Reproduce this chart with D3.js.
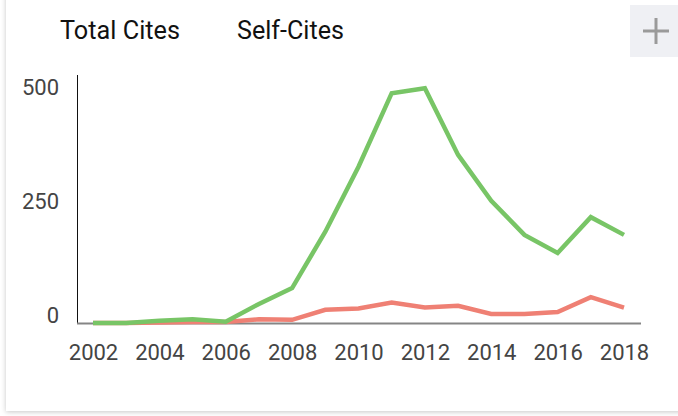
<!DOCTYPE html>
<html>
<head>
<meta charset="utf-8">
<script src="https://cdn.jsdelivr.net/npm/d3@7"></script>
<style>
  html, body { margin: 0; padding: 0; background: #fff; }
  body { width: 678px; height: 416px; overflow: hidden; position: relative; font-family: Roboto, sans-serif; }
  #card {
    position: absolute; left: 6px; top: -10px; width: 720px; height: 421px;
    background: #fff; box-shadow: 0 1px 5px rgba(0,0,0,0.22);
  }
  #chart { position: absolute; left: 0; top: 0; }
</style>
</head>
<body>
<div id="card"></div>
<svg id="chart" width="678" height="416"></svg>
<script>
const years = d3.range(2002, 2019);
const totalCites = [0, 0, 5, 8, 3, 42, 77, 201, 344, 506, 517, 370, 269, 194, 154, 233, 194];
const selfCites = [0, 0, 1, 2, 2, 8, 7, 29, 32, 45, 34, 38, 20, 20, 24, 57, 34];
const yTicks = [0, 250, 500];
const xTicks = [2002, 2004, 2006, 2008, 2010, 2012, 2014, 2016, 2018];
const legendLabels = ['Total Cites', 'Self-Cites'];

const svg = d3.select('#chart');

const x = d3.scaleLinear()
  .domain([2002, 2018])
  .range([93, 624]);

const y = d3.scaleLinear()
  .domain([0, 546])
  .range([323, 75]);

// Legend (text only, narrow like the original)
svg.selectAll('.legend')
  .data(legendLabels)
  .enter()
  .append('text')
    .attr('x', (d, i) => i === 0 ? 60 : 237)
    .attr('y', 39)
    .attr('font-size', 25)
    .attr('textLength', (d, i) => i === 0 ? 120 : 107)
    .attr('lengthAdjust', 'spacingAndGlyphs')
    .attr('fill', '#111')
    .text(d => d);

// Plus button
const btn = svg.append('g');
btn.append('rect')
  .attr('x', 630).attr('y', 5)
  .attr('width', 52).attr('height', 52)
  .attr('fill', '#eff0f4');
btn.append('line')
  .attr('x1', 643).attr('x2', 669).attr('y1', 31).attr('y2', 31)
  .attr('stroke', '#9a9a9a').attr('stroke-width', 3);
btn.append('line')
  .attr('x1', 656).attr('x2', 656).attr('y1', 18).attr('y2', 44)
  .attr('stroke', '#9a9a9a').attr('stroke-width', 3);

// Y axis
const yAxis = svg.append('g')
  .attr('transform', 'translate(77,0)')
  .call(d3.axisLeft(y).tickValues(yTicks).tickSize(0).tickPadding(18));
yAxis.select('.domain').remove();
yAxis.selectAll('text')
  .attr('font-family', 'Roboto, sans-serif')
  .attr('font-size', 22)
  .attr('fill', '#444')
  .attr('dy', '-1');
svg.append('line')
  .attr('x1', 77.5).attr('x2', 77.5)
  .attr('y1', y.range()[1]).attr('y2', y(0))
  .attr('stroke', '#111').attr('stroke-width', 1);

// X axis
const xAxis = svg.append('g')
  .attr('transform', `translate(0,${y(0)})`)
  .call(d3.axisBottom(x).tickValues(xTicks).tickFormat(d3.format('d')).tickSize(0).tickPadding(21));
xAxis.select('.domain').remove();
xAxis.selectAll('text')
  .attr('font-family', 'Roboto, sans-serif')
  .attr('font-size', 22)
  .attr('fill', '#444');
svg.append('line')
  .attr('x1', x(2002) - 16).attr('x2', x(2018) + 17)
  .attr('y1', y(0) + 0.5).attr('y2', y(0) + 0.5)
  .attr('stroke', '#858585').attr('stroke-width', 2);

// Lines
const line = d3.line()
  .x((d, i) => x(years[i]))
  .y(d => y(d));

svg.append('path')
  .datum(selfCites)
  .attr('d', line)
  .attr('fill', 'none')
  .attr('stroke', '#ef8074')
  .attr('stroke-width', 4.5)
  .attr('stroke-linejoin', 'miter');

svg.append('path')
  .datum(totalCites)
  .attr('d', line)
  .attr('fill', 'none')
  .attr('stroke', '#78c566')
  .attr('stroke-width', 4.5)
  .attr('stroke-linejoin', 'miter');
</script>
</body>
</html>
